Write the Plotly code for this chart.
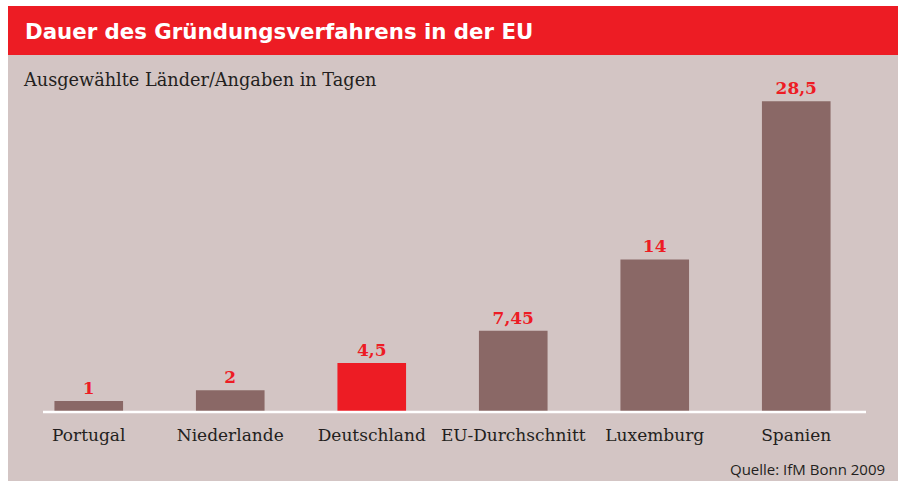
import plotly.graph_objects as go

# Gründungsdauer je Land (Tage)
laender = ["Portugal", "Niederlande", "Deutschland", "EU-Durchschnitt", "Luxemburg", "Spanien"]
tage = [1, 2, 4.5, 7.45, 14, 28.5]
hervorgehoben = "Deutschland"

ROT = "#ed1c24"
BRAUN = "#8a6866"
HINTERGRUND = "#d3c5c4"

W, H = 898, 481
# Plotbereich in Pixeln
PX0, PX1 = 18, 867
PY_TOP, PY_BOT = 85, 412


def fx(px):
    return (px - PX0) / (PX1 - PX0)


def fy(py):
    return (PY_BOT - py) / (PY_BOT - PY_TOP)


beschriftung = [f"{v:g}".replace(".", ",") for v in tage]
farben = [ROT if l == hervorgehoben else BRAUN for l in laender]

fig = go.Figure(
    go.Bar(
        x=laender,
        y=tage,
        marker=dict(color=farben, line=dict(width=0)),
        width=0.485,
        text=beschriftung,
        textposition="outside",
        textfont=dict(family="DejaVu Serif", size=17, color=ROT, weight="bold"),
        cliponaxis=False,
        hoverinfo="skip",
    )
)

shapes = [
    # grauer Kartenhintergrund
    dict(type="rect", xref="paper", yref="paper", x0=fx(8), x1=fx(W + 2), y0=fy(H + 2), y1=fy(55),
         fillcolor=HINTERGRUND, line=dict(width=0), layer="below"),
    # rote Titelleiste
    dict(type="rect", xref="paper", yref="paper", x0=fx(8), x1=fx(W + 2), y0=fy(55), y1=fy(6),
         fillcolor=ROT, line=dict(width=0), layer="below"),
    # weiße Grundlinie
    dict(type="line", xref="paper", yref="paper", x0=fx(43), x1=fx(866), y0=fy(412), y1=fy(412),
         line=dict(color="white", width=2.5), layer="above"),
]

annotations = [
    dict(text="<b>Dauer des Gründungsverfahrens in der EU</b>", xref="paper", yref="paper",
         x=fx(23), y=fy(31), xanchor="left", yanchor="middle", showarrow=False,
         font=dict(family="DejaVu Sans", size=21.3, color="white")),
    dict(text="Ausgewählte Länder/Angaben in Tagen", xref="paper", yref="paper",
         x=fx(21), y=fy(80), xanchor="left", yanchor="middle", showarrow=False,
         font=dict(family="DejaVu Serif", size=17.7, color="#231f20")),
    dict(text="Quelle: IfM Bonn 2009", xref="paper", yref="paper",
         x=fx(887), y=fy(469), xanchor="right", yanchor="middle", showarrow=False,
         font=dict(family="Open Sans", size=15, color="#231f20")),
]

fig.update_layout(
    width=W,
    height=H,
    margin=dict(l=PX0, r=W - PX1, t=PY_TOP, b=H - PY_BOT, pad=0),
    paper_bgcolor="white",
    plot_bgcolor="rgba(0,0,0,0)",
    showlegend=False,
    shapes=shapes,
    annotations=annotations,
    bargap=0.5,
    xaxis=dict(
        range=[-0.5, 5.5],
        showgrid=False,
        zeroline=False,
        showline=False,
        ticks="outside",
        ticklen=8,
        tickcolor="rgba(0,0,0,0)",
        tickfont=dict(family="DejaVu Serif", size=17, color="#231f20"),
        fixedrange=True,
    ),
    yaxis=dict(
        range=[0, 30],
        visible=False,
        fixedrange=True,
    ),
)

fig.write_html("out.html")
